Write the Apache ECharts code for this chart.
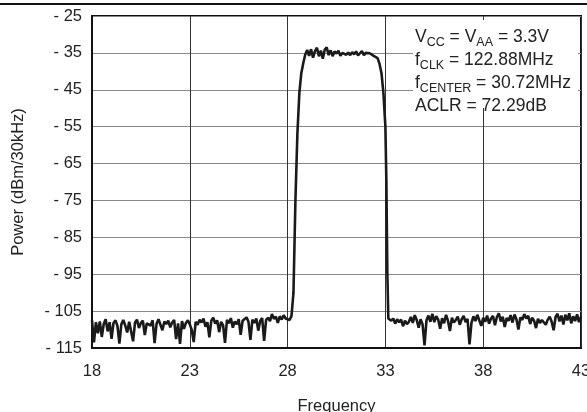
<!DOCTYPE html>
<html>
<head>
<meta charset="utf-8">
<script src="https://cdn.jsdelivr.net/npm/echarts@6/dist/echarts.min.js"></script>
<style>html,body{margin:0;padding:0;background:#fff}#c{width:587px;height:412px}</style>
</head>
<body>
<div id="c"></div>
<script>
const xTicks = [18, 23, 28, 33, 38, 43];
const yTicks = [-115, -105, -95, -85, -75, -65, -55, -45, -35, -25];
const noteLines = [
  '{m|V}{s|CC}{m| = V}{s|AA}{m| = 3.3V}',
  '{m|f}{s|CLK}{m| = 122.88MHz}',
  '{m|f}{s|CENTER}{m| = 30.72MHz}',
  '{m|ACLR = 72.29dB}'
];
const freq = [
18.0,18.1,18.2,18.3,18.4,18.5,18.6,18.7,18.8,18.9,
19.0,19.1,19.2,19.3,19.4,19.5,19.6,19.7,19.8,19.9,
20.0,20.1,20.2,20.3,20.4,20.5,20.6,20.7,20.8,20.9,
21.0,21.1,21.2,21.3,21.4,21.5,21.6,21.7,21.8,21.9,
22.0,22.1,22.2,22.3,22.4,22.5,22.6,22.7,22.8,22.9,
23.0,23.1,23.2,23.3,23.4,23.5,23.6,23.7,23.8,23.9,
24.0,24.1,24.2,24.3,24.4,24.5,24.6,24.7,24.8,24.9,
25.0,25.1,25.2,25.3,25.4,25.5,25.6,25.7,25.8,25.9,
26.0,26.1,26.2,26.3,26.4,26.5,26.6,26.7,26.8,26.9,
27.0,27.1,27.2,27.3,27.4,27.5,27.6,27.7,27.8,27.9,
28.0,28.1,28.2,
28.3,28.4,28.5,28.6,28.7,28.8,28.9,
29.0,29.1,29.2,29.3,29.4,29.5,29.6,29.7,29.8,29.9,
30.0,30.1,30.2,30.3,30.4,30.5,30.6,30.7,30.8,30.9,
31.0,31.1,31.2,31.3,31.4,31.5,31.6,31.7,31.8,31.9,
32.0,32.1,32.2,32.3,
32.4,32.5,32.6,32.7,32.8,32.9,33.0,33.05,33.1,33.15,
33.2,33.3,33.4,33.5,33.6,33.7,33.8,33.9,
34.0,34.1,34.2,34.3,34.4,34.5,34.6,34.7,34.8,34.9,
35.0,35.1,35.2,35.3,35.4,35.5,35.6,35.7,35.8,35.9,
36.0,36.1,36.2,36.3,36.4,36.5,36.6,36.7,36.8,36.9,
37.0,37.1,37.2,37.3,37.4,37.5,37.6,37.7,37.8,37.9,
38.0,38.1,38.2,38.3,38.4,38.5,38.6,38.7,38.8,38.9,
39.0,39.1,39.2,39.3,39.4,39.5,39.6,39.7,39.8,39.9,
40.0,40.1,40.2,40.3,40.4,40.5,40.6,40.7,40.8,40.9,
41.0,41.1,41.2,41.3,41.4,41.5,41.6,41.7,41.8,41.9,
42.0,42.1,42.2,42.3,42.4,42.5,42.6,42.7,42.8,42.9,
43.0
];
const power = [
-107.5,-113.5,-108.0,-111.0,-107.8,-112.0,-108.5,-107.2,-110.5,-108.0,
-112.5,-108.2,-107.5,-109.0,-113.8,-108.6,-107.4,-108.9,-110.8,-107.9,
-108.4,-113.2,-108.1,-107.3,-109.6,-108.2,-107.6,-111.5,-108.3,-107.8,
-108.9,-107.5,-113.7,-108.4,-107.2,-108.7,-110.2,-107.8,-108.5,-107.6,
-109.4,-108.1,-107.4,-112.6,-108.3,-113.9,-107.7,-109.8,-108.2,-107.5,
-108.6,-110.1,-113.4,-107.9,-108.7,-107.3,-108.1,-107.0,-109.2,-108.0,
-112.1,-107.6,-106.8,-108.4,-107.5,-110.7,-107.9,-108.8,-113.6,-107.4,
-108.3,-106.9,-109.5,-107.8,-108.6,-107.2,-111.4,-107.6,-108.1,-106.7,
-107.9,-112.8,-107.3,-108.2,-107.0,-110.3,-107.6,-106.9,-113.1,-107.4,
-106.8,-107.7,-105.8,-107.1,-106.5,-108.2,-106.4,-107.3,-106.1,-107.0,
-106.6,-107.4,-106.3,
-100.0,-75.0,-57.0,-46.0,-40.5,-37.8,-35.5,
-34.2,-35.8,-34.0,-36.3,-34.5,-33.6,-35.9,-34.4,-36.6,-34.1,
-33.5,-35.6,-34.3,-35.9,-34.6,-35.2,-34.4,-35.8,-35.0,-34.7,
-35.5,-34.9,-35.6,-34.8,-35.4,-34.6,-35.7,-35.1,-34.5,-35.6,
-35.0,-35.4,-35.1,-35.3,
-35.8,-35.6,-36.4,-38.0,-40.5,-46.0,-55.0,-70.0,-95.0,-107.0,
-106.5,-107.6,-107.0,-108.4,-107.2,-108.0,-107.3,-109.1,
-107.6,-108.5,-107.9,-106.6,-108.2,-106.1,-107.4,-109.5,-107.2,-108.6,
-114.3,-107.5,-106.2,-107.9,-105.7,-108.0,-106.4,-107.3,-109.8,-106.9,
-108.3,-106.0,-107.6,-110.4,-106.8,-108.1,-107.4,-106.5,-108.7,-107.2,
-106.3,-108.0,-107.1,-114.0,-108.2,-106.4,-107.7,-106.0,-107.5,-109.0,
-106.8,-107.9,-106.2,-108.4,-107.0,-106.3,-108.8,-106.6,-105.6,-107.8,
-106.5,-109.3,-106.9,-107.6,-106.1,-108.1,-105.9,-107.2,-110.0,-106.7,
-107.4,-105.8,-107.0,-106.3,-108.5,-106.8,-107.6,-109.6,-107.1,-108.2,
-107.4,-106.9,-108.7,-107.3,-106.5,-107.9,-110.2,-106.6,-105.7,-107.8,
-106.2,-108.6,-106.0,-107.5,-105.6,-108.3,-106.4,-107.7,-105.9,-108.0,
-106.5
];
const seriesData = freq.map((f, i) => [f, power[i]]);
const FONT = "'Liberation Sans', Arial, sans-serif";
const chart = echarts.init(document.getElementById('c'), null, {renderer: 'canvas'});
chart.setOption({
  animation: false,
  backgroundColor: '#fff',
  grid: {left: 92, right: 6, top: 16, bottom: 64, show: true, borderColor: '#111', borderWidth: 2,
    containLabel: false, outerBoundsMode: 'none'},
  xAxis: {
    type: 'value', min: xTicks[0], max: xTicks[xTicks.length - 1], interval: 5,
    name: 'Frequency', nameLocation: 'middle', nameGap: 50,
    nameTextStyle: {fontFamily: FONT, fontSize: 16.5, color: '#222'},
    axisLine: {show: true, lineStyle: {color: '#111', width: 2}},
    axisTick: {show: false},
    axisLabel: {fontFamily: FONT, fontSize: 16.5, color: '#222', margin: 15},
    splitLine: {show: true, lineStyle: {color: '#333', width: 1}}
  },
  yAxis: {
    type: 'value', min: yTicks[0], max: yTicks[yTicks.length - 1], interval: 10,
    name: 'Power (dBm/30kHz)', nameLocation: 'middle', nameGap: 65,
    nameTextStyle: {fontFamily: FONT, fontSize: 16.5, color: '#222'},
    axisLine: {show: true, lineStyle: {color: '#111', width: 2}},
    axisTick: {show: false},
    axisLabel: {fontFamily: FONT, fontSize: 16.5, color: '#222', margin: 10,
      formatter: v => '- ' + Math.abs(v)},
    splitLine: {show: true, lineStyle: {color: '#888', width: 1}}
  },
  series: [{
    type: 'line', data: seriesData, showSymbol: false, symbol: 'none',
    lineStyle: {color: '#1a1a1a', width: 2.6}, clip: true, z: 3
  }],
  graphic: [
    {type: 'line', shape: {x1: 0, y1: 4, x2: 587, y2: 4}, style: {stroke: '#111', lineWidth: 2}, z: 10},
    {type: 'rect', shape: {x: 413, y: 20, width: 165, height: 88}, style: {fill: '#fff'}, z: 5},
    {type: 'text', left: 415, top: 25, z: 6, style: {
      text: noteLines.join('\n'),
      rich: {
        m: {fontFamily: FONT, fontSize: 17.5, fill: '#222', lineHeight: 23},
        s: {fontFamily: FONT, fontSize: 12.5, fill: '#222', lineHeight: 23, padding: [11, 0, 0, 0]}
      }
    }}
  ]
});
</script>
</body>
</html>
